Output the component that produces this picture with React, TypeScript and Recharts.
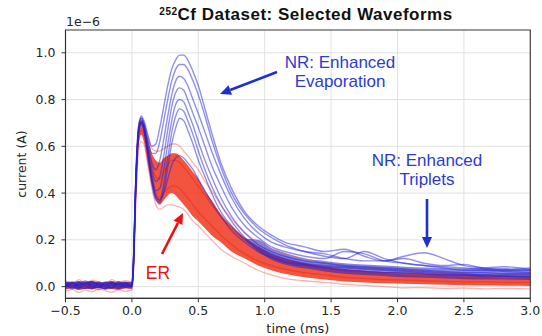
import React from "react"
import {
  ComposedChart,
  Line,
  Area,
  XAxis,
  YAxis,
  CartesianGrid,
  ReferenceArea,
} from "recharts"

// time axis (ms), shared by every waveform
const T = [
  -0.5, -0.45, -0.4, -0.35, -0.3, -0.25, -0.2, -0.15, -0.1, -0.05, 0,
  0.01, 0.03, 0.05, 0.07, 0.09,
  0.12, 0.15, 0.18, 0.21, 0.24, 0.27, 0.3, 0.33, 0.36, 0.39, 0.42, 0.46, 0.5,
  0.55, 0.6, 0.67, 0.75, 0.85, 0.95, 1.05, 1.15, 1.3, 1.45, 1.6, 1.75, 1.9,
  2.05, 2.2, 2.35, 2.5, 2.65, 2.8, 3.0,
]

// ER band (dense core of red waveforms), units of 1e-6 A
const R_LO = [
  -0.012, -0.008, -0.014, -0.01, -0.012, -0.006, -0.012, -0.01, -0.014, -0.008, -0.01,
  0.04, 0.38, 0.6, 0.65, 0.62,
  0.52, 0.43, 0.37, 0.35, 0.37, 0.39, 0.4, 0.39, 0.37, 0.35, 0.33, 0.3, 0.28,
  0.25, 0.22, 0.19, 0.15, 0.12, 0.09, 0.07, 0.055, 0.04, 0.03, 0.022, 0.018, 0.014,
  0.012, 0.01, 0.008, 0.006, 0.005, 0.004, 0.003,
]
const R_HI = [
  0.018, 0.022, 0.016, 0.02, 0.024, 0.018, 0.02, 0.022, 0.017, 0.02, 0.02,
  0.1, 0.48, 0.67, 0.71, 0.69,
  0.63, 0.57, 0.54, 0.53, 0.55, 0.56, 0.57, 0.57, 0.56, 0.54, 0.52, 0.49, 0.46,
  0.41, 0.37, 0.31, 0.26, 0.21, 0.17, 0.14, 0.12, 0.1, 0.085, 0.075, 0.068, 0.062,
  0.058, 0.055, 0.052, 0.05, 0.048, 0.046, 0.044,
]

// NR dense core: baseline before the pulse and the slow tail (null where not dense)
const B_LO = [
  -0.01, -0.006, -0.012, -0.008, -0.01, -0.005, -0.011, -0.008, -0.01, -0.006, -0.008,
  null, null, null, null, null,
  null, null, null, null, null, null, null, null, null, null, null, null, null,
  null, null, null, null, 0.2, 0.15, 0.115, 0.095, 0.078, 0.065, 0.055, 0.05, 0.045,
  0.04, 0.038, 0.035, 0.032, 0.03, 0.03, 0.028,
]
const B_HI = [
  0.022, 0.02, 0.024, 0.02, 0.023, 0.019, 0.022, 0.024, 0.02, 0.022, 0.02,
  null, null, null, null, null,
  null, null, null, null, null, null, null, null, null, null, null, null, null,
  null, null, null, null, 0.205, 0.2, 0.165, 0.145, 0.12, 0.11, 0.1, 0.095, 0.09,
  0.085, 0.082, 0.08, 0.078, 0.078, 0.076, 0.075,
]

// individual ER waveforms
const R1 = [
  0.025, 0.01, 0.03, 0.015, 0.028, 0.02, 0.012, 0.03, 0.018, 0.026, 0.02,
  0.1, 0.5, 0.69, 0.72, 0.7,
  0.64, 0.59, 0.58, 0.58, 0.59, 0.6, 0.61, 0.61, 0.6, 0.58, 0.56, 0.53, 0.5,
  0.45, 0.41, 0.35, 0.29, 0.23, 0.19, 0.16, 0.14, 0.12, 0.1, 0.09, 0.08, 0.075,
  0.07, 0.065, 0.06, 0.06, 0.055, 0.055, 0.05,
]
const R2 = [
  -0.02, -0.012, -0.025, -0.015, -0.022, -0.01, -0.018, -0.024, -0.014, -0.02, -0.015,
  0.03, 0.36, 0.58, 0.62, 0.61,
  0.52, 0.42, 0.35, 0.33, 0.34, 0.35, 0.35, 0.345, 0.34, 0.33, 0.31, 0.28, 0.26,
  0.23, 0.2, 0.16, 0.13, 0.1, 0.07, 0.05, 0.035, 0.025, 0.018, 0.01, 0.005, 0.0,
  -0.005, -0.004, -0.008, -0.006, -0.01, -0.008, -0.01,
]
const R3 = [
  0.015, 0.005, 0.02, 0.0, 0.012, 0.018, 0.004, 0.01, 0.022, 0.006, 0.008,
  0.07, 0.44, 0.65, 0.7, 0.68,
  0.6, 0.52, 0.47, 0.46, 0.49, 0.52, 0.54, 0.54, 0.53, 0.51, 0.49, 0.46, 0.43,
  0.39, 0.35, 0.3, 0.25, 0.2, 0.16, 0.13, 0.11, 0.09, 0.08, 0.07, 0.065, 0.06,
  0.055, 0.05, 0.05, 0.045, 0.045, 0.04, 0.04,
]
const R4 = [
  -0.008, 0.002, -0.012, 0.006, -0.004, -0.014, 0.0, -0.006, -0.01, 0.004, -0.005,
  0.05, 0.4, 0.62, 0.67, 0.65,
  0.56, 0.46, 0.4, 0.38, 0.4, 0.42, 0.43, 0.43, 0.42, 0.4, 0.38, 0.35, 0.32,
  0.29, 0.26, 0.22, 0.18, 0.14, 0.11, 0.09, 0.075, 0.06, 0.05, 0.04, 0.035, 0.03,
  0.028, 0.025, 0.022, 0.02, 0.02, 0.018, 0.018,
]

// NR waveforms (enhanced evaporation / triplets)
const B1 = [
  0.012, -0.004, 0.018, 0.002, 0.015, -0.006, 0.01, 0.02, -0.002, 0.012, 0.005,
  0.09, 0.47, 0.68, 0.73, 0.71,
  0.65, 0.6, 0.61, 0.68, 0.77, 0.86, 0.93, 0.97, 0.99, 0.99, 0.97, 0.92, 0.86,
  0.76, 0.66, 0.53, 0.42, 0.32, 0.26, 0.22, 0.19, 0.17, 0.15, 0.16, 0.13, 0.11,
  0.12, 0.1, 0.09, 0.095, 0.08, 0.085, 0.075,
]
const B2 = [
  -0.003, 0.01, 0.004, 0.02, -0.008, 0.012, 0.003, -0.005, 0.016, 0.0, 0.0,
  0.08, 0.45, 0.67, 0.72, 0.7,
  0.63, 0.57, 0.57, 0.62, 0.71, 0.8, 0.88, 0.93, 0.95, 0.95, 0.93, 0.88, 0.82,
  0.73, 0.63, 0.51, 0.4, 0.31, 0.25, 0.21, 0.18, 0.15, 0.13, 0.12, 0.15, 0.12,
  0.1, 0.09, 0.085, 0.08, 0.075, 0.07, 0.07,
]
const B3 = [
  0.02, 0.006, -0.006, 0.012, 0.022, 0.004, -0.01, 0.014, 0.008, -0.004, 0.01,
  0.07, 0.44, 0.66, 0.71, 0.69,
  0.61, 0.53, 0.5, 0.54, 0.63, 0.73, 0.82, 0.88, 0.9, 0.89, 0.86, 0.8, 0.74,
  0.66, 0.58, 0.48, 0.38, 0.29, 0.23, 0.19, 0.17, 0.15, 0.14, 0.12, 0.11, 0.11,
  0.13, 0.145, 0.12, 0.09, 0.08, 0.075, 0.08,
]
const B4 = [
  0.005, 0.018, 0.0, -0.008, 0.01, 0.02, 0.006, -0.004, 0.012, 0.018, 0.004,
  0.08, 0.46, 0.67, 0.71, 0.68,
  0.59, 0.5, 0.45, 0.47, 0.56, 0.67, 0.77, 0.83, 0.85, 0.84, 0.8, 0.74, 0.68,
  0.6, 0.52, 0.43, 0.34, 0.26, 0.21, 0.17, 0.15, 0.13, 0.12, 0.15, 0.14, 0.11,
  0.1, 0.09, 0.08, 0.07, 0.07, 0.065, 0.06,
]
const B5 = [
  0.014, -0.01, 0.008, 0.016, 0.0, -0.004, 0.018, 0.01, -0.008, 0.006, -0.002,
  0.06, 0.43, 0.65, 0.7, 0.68,
  0.58, 0.48, 0.41, 0.42, 0.5, 0.61, 0.71, 0.78, 0.8, 0.79, 0.75, 0.69, 0.62,
  0.54, 0.47, 0.38, 0.3, 0.23, 0.18, 0.15, 0.13, 0.11, 0.1, 0.09, 0.085, 0.08,
  0.075, 0.07, 0.065, 0.06, 0.06, 0.055, 0.055,
]
const B6 = [
  0.0, 0.012, 0.02, 0.004, -0.006, 0.014, 0.002, 0.018, 0.004, 0.014, 0.006,
  0.09, 0.47, 0.68, 0.72, 0.69,
  0.58, 0.46, 0.38, 0.37, 0.44, 0.55, 0.66, 0.73, 0.76, 0.75, 0.71, 0.65, 0.58,
  0.5, 0.43, 0.35, 0.28, 0.21, 0.17, 0.14, 0.12, 0.1, 0.09, 0.085, 0.08, 0.075,
  0.07, 0.065, 0.06, 0.055, 0.05, 0.05, 0.05,
]
const B7 = [
  0.01, 0.002, 0.014, 0.024, 0.006, 0.0, 0.012, -0.006, 0.02, 0.002, 0.002,
  0.07, 0.44, 0.66, 0.7, 0.67,
  0.56, 0.44, 0.37, 0.36, 0.41, 0.51, 0.61, 0.68, 0.72, 0.71, 0.67, 0.61, 0.54,
  0.47, 0.4, 0.32, 0.26, 0.2, 0.16, 0.13, 0.11, 0.095, 0.085, 0.08, 0.075, 0.07,
  0.065, 0.06, 0.055, 0.05, 0.05, 0.045, 0.045,
]
const B8 = [
  0.006, 0.016, -0.002, 0.01, 0.018, 0.008, -0.004, 0.006, 0.012, 0.008, 0.003,
  0.08, 0.45, 0.66, 0.7, 0.67,
  0.57, 0.46, 0.39, 0.37, 0.4, 0.46, 0.52, 0.55, 0.56, 0.55, 0.53, 0.5, 0.46,
  0.41, 0.36, 0.3, 0.24, 0.19, 0.15, 0.125, 0.105, 0.09, 0.08, 0.07, 0.065, 0.06,
  0.06, 0.055, 0.05, 0.05, 0.045, 0.045, 0.04,
]

const X_TICKS = [-0.5, 0, 0.5, 1.0, 1.5, 2.0, 2.5, 3.0]
const Y_TICKS = [0, 0.2, 0.4, 0.6, 0.8, 1.0]

const data = T.map((t, i) => ({
  t,
  redBand: [R_LO[i], R_HI[i]],
  blueBand: B_LO[i] == null ? null : [B_LO[i], B_HI[i]],
  r1: R1[i],
  r2: R2[i],
  r3: R3[i],
  r4: R4[i],
  b1: B1[i],
  b2: B2[i],
  b3: B3[i],
  b4: B4[i],
  b5: B5[i],
  b6: B6[i],
  b7: B7[i],
  b8: B8[i],
}))

const redLines = [
  { key: "r1", color: "#f05a4a", opacity: 0.45 },
  { key: "r2", color: "#f05a4a", opacity: 0.45 },
  { key: "r3", color: "#e8301a", opacity: 0.6 },
  { key: "r4", color: "#e8301a", opacity: 0.6 },
]
const blueLines = ["b8", "b7", "b6", "b5", "b4", "b3", "b2", "b1"]

const fmt = (v: number) => v.toFixed(1).replace("-", "\u2212")
const tickStyle = { fontSize: 12.5, fill: "#262626", fontFamily: "DejaVu Sans" }

const Arrow = ({ x1, y1, x2, y2, color }: any) => {
  const len = Math.hypot(x2 - x1, y2 - y1)
  const ux = (x2 - x1) / len
  const uy = (y2 - y1) / len
  const hl = 11
  const hw = 5
  const bx = x2 - ux * hl
  const by = y2 - uy * hl
  return (
    <g>
      <line x1={x1} y1={y1} x2={bx} y2={by} stroke={color} strokeWidth={2.6} />
      <polygon
        points={`${x2},${y2} ${bx - uy * hw},${by + ux * hw} ${bx + uy * hw},${by - ux * hw}`}
        fill={color}
      />
    </g>
  )
}

const App: React.FC = () => {
  return (
    <div style={{ position: "absolute", left: 0, top: 0, width: 542, height: 336, background: "#fff" }}>
      <ComposedChart
        width={542}
        height={336}
        data={data}
        margin={{ top: 30, right: 11.7, bottom: 0, left: 8 }}
      >
        <CartesianGrid stroke="#dedede" strokeWidth={0.9} />
        <XAxis
          dataKey="t"
          type="number"
          domain={[-0.5, 3]}
          ticks={X_TICKS}
          tickFormatter={fmt}
          height={37.7}
          tickSize={4}
          tickMargin={4}
          tick={tickStyle}
          stroke="#333"
          label={{
            value: "time (ms)",
            position: "insideBottom",
            offset: 3,
            style: { fontSize: 13, fill: "#262626", fontFamily: "DejaVu Sans" },
          }}
        />
        <YAxis
          type="number"
          domain={[-0.05, 1.0975]}
          allowDataOverflow
          ticks={Y_TICKS}
          tickFormatter={fmt}
          width={57.5}
          tickSize={4}
          tickMargin={6}
          tick={tickStyle}
          stroke="#333"
        />
        <Area
          type="monotone"
          dataKey="redBand"
          stroke="none"
          fill="#f0361e"
          fillOpacity={0.85}
          dot={false}
          activeDot={false}
          isAnimationActive={false}
        />
        {redLines.map((r) => (
          <Line
            key={r.key}
            type="monotone"
            dataKey={r.key}
            stroke={r.color}
            strokeOpacity={r.opacity}
            strokeWidth={1.3}
            dot={false}
            activeDot={false}
            isAnimationActive={false}
          />
        ))}
        <Area
          type="monotone"
          dataKey="blueBand"
          stroke="none"
          fill="#2020c4"
          fillOpacity={0.55}
          dot={false}
          activeDot={false}
          isAnimationActive={false}
        />
        {blueLines.map((k) => (
          <Line
            key={k}
            type="monotone"
            dataKey={k}
            stroke="#2222d8"
            strokeOpacity={0.5}
            strokeWidth={1.4}
            dot={false}
            activeDot={false}
            isAnimationActive={false}
          />
        ))}
        <ReferenceArea
          x1={-0.5}
          x2={3}
          y1={-0.05}
          y2={1.0975}
          fill="none"
          stroke="#444"
          strokeWidth={1.2}
        />
      </ComposedChart>

      <svg
        width={542}
        height={336}
        style={{ position: "absolute", left: 0, top: 0, pointerEvents: "none" }}
      >
        <text
          x={306}
          y={20}
          textAnchor="middle"
          fontFamily="Liberation Sans, Arial, sans-serif"
          fontWeight="bold"
          fontSize={17}
          letterSpacing={0.5}
          fill="#111"
        >
          <tspan fontSize={10} dy={-5}>252</tspan>
          <tspan dy={5}>Cf Dataset: Selected Waveforms</tspan>
        </text>
        <text x={66} y={26} fontFamily="DejaVu Sans" fontSize={12.5} fill="#262626">
          1e−6
        </text>
        <text
          x={21}
          y={164}
          transform="rotate(-90 21 164)"
          textAnchor="middle"
          dominantBaseline="central"
          fontFamily="DejaVu Sans"
          fontSize={12.5}
          fill="#262626"
        >
          current (A)
        </text>

        <g fontFamily="Liberation Sans, Arial, sans-serif" fontSize={17} fill="#2b3ccf" textAnchor="middle">
          <text x={340} y={68}>NR: Enhanced</text>
          <text x={340} y={87}>Evaporation</text>
          <text x={427} y={166}>NR: Enhanced</text>
          <text x={427} y={185}>Triplets</text>
        </g>
        <Arrow x1={277} y1={72} x2={220} y2={94} color="#1d2fd0" />
        <Arrow x1={427} y1={199} x2={427} y2={248} color="#1d2fd0" />

        <text
          x={158}
          y={279}
          textAnchor="middle"
          fontFamily="Liberation Sans, Arial, sans-serif"
          fontSize={17.5}
          fill="#ee1111"
        >
          ER
        </text>
        <Arrow x1={162} y1={254} x2={183} y2={213} color="#ee1111" />
      </svg>
    </div>
  )
}

export default App
